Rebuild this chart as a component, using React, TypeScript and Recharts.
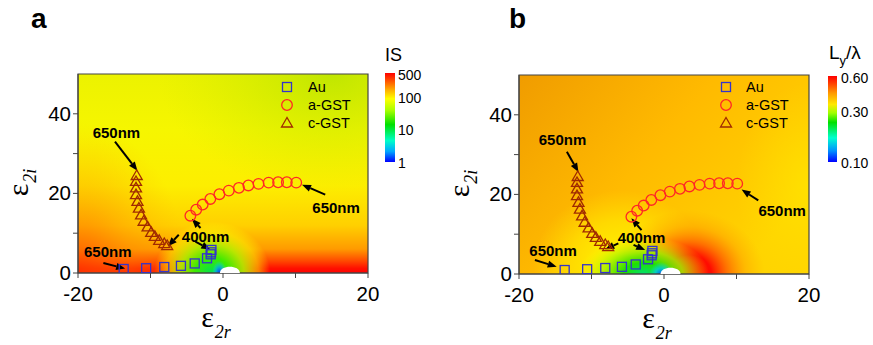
import React from 'react';
import {
  ScatterChart,
  Scatter,
  XAxis,
  YAxis,
  ReferenceArea,
  ReferenceLine,
  ReferenceDot,
  Legend,
} from 'recharts';

// ---------------- data ----------------
const auX = [-13.7, -10.6, -8.1, -5.8, -3.9, -2.2, -1.7, -1.65, -1.6];
const auY = [1.0, 1.2, 1.5, 1.8, 2.4, 3.7, 4.7, 5.2, 5.8];

const aGstX = [-4.5, -3.7, -2.8, -1.75, -0.5, 0.8, 2.2, 3.5, 4.9, 6.3, 7.6, 8.8, 10.1];
const aGstY = [14.4, 15.9, 17.2, 18.6, 19.8, 20.7, 21.4, 22.0, 22.4, 22.7, 22.8, 22.8, 22.7];

const cGstX = [-11.9, -12.0, -12.0, -12.0, -11.8, -11.6, -11.3, -10.95, -10.4, -9.9, -9.4, -8.8, -8.1, -7.7];
const cGstY = [24.5, 23.0, 21.4, 19.7, 18.0, 16.3, 14.6, 13.0, 11.6, 10.2, 9.2, 8.2, 7.4, 6.9];

const X_DOMAIN: [number, number] = [-20, 20];
const Y_DOMAIN: [number, number] = [0, 50];
const X_TICKS = [-20, -10, 0, 10, 20];
const X_LABELED = [-20, 0, 20];
const Y_TICKS = [0, 10, 20, 30, 40];
const Y_LABELED = [0, 20, 40];

const seriesNames = ['Au', 'a-GST', 'c-GST'];

const annotTextsA = [
  { t: '650nm', x: -14.7, y: 35.2 },
  { t: '650nm', x: 15.6, y: 16.4 },
  { t: '400nm', x: -2.4, y: 9.1 },
  { t: '650nm', x: -15.9, y: 5.4 },
];
const annotArrowsA = [
  [-14.9, 33.0, -11.8, 25.7],
  [14.1, 19.7, 10.9, 22.2],
  [-6.1, 9.6, -7.6, 6.7],
  [-3.1, 11.3, -4.3, 13.6],
  [-3.8, 7.9, -1.75, 5.9],
  [-16.5, 2.5, -13.5, 1.1],
];
const annotTextsB = [
  { t: '650nm', x: -14.0, y: 33.8 },
  { t: '650nm', x: 16.3, y: 15.9 },
  { t: '400nm', x: -3.1, y: 9.2 },
  { t: '650nm', x: -15.3, y: 5.8 },
];
const annotArrowsB = [
  [-13.4, 30.7, -11.8, 25.6],
  [13.0, 18.5, 10.7, 21.2],
  [-6.3, 7.7, -8.1, 6.2],
  [-3.1, 11.0, -4.5, 14.0],
  [-4.2, 7.3, -2.6, 6.0],
  [-17.8, 3.5, -14.8, 1.8],
];

const colorbarA = ['500', '100', '10', '1'];
const colorbarB = ['0.60', '0.30', '0.10'];

// ---------------- styles ----------------
const FONT = '"Liberation Sans", Arial, sans-serif';
const SERIF = '"Liberation Serif", "Times New Roman", serif';
const AU_C = '#3434cc';
const AG_C = '#ff2626';
const CG_C = '#a02a00';

const toPts = (xs: number[], ys: number[]) => xs.map((x, i) => ({ x, y: ys[i] }));
const auPts = toPts(auX, auY);
const agPts = toPts(aGstX, aGstY);
const cgPts = toPts(cGstX, cGstY);

type Stop = [number, string, number];

const fx = (x: number) => (x - X_DOMAIN[0]) / (X_DOMAIN[1] - X_DOMAIN[0]);
const fy = (y: number) => 1 - (y - Y_DOMAIN[0]) / (Y_DOMAIN[1] - Y_DOMAIN[0]);

function radial(id: string, x: number, y: number, rx: number, ry: number, stops: Stop[]) {
  const cx = fx(x);
  const cy = fy(y);
  const sx = rx / (X_DOMAIN[1] - X_DOMAIN[0]);
  const sy = ry / (Y_DOMAIN[1] - Y_DOMAIN[0]);
  return (
    <radialGradient
      key={id}
      id={id}
      cx={cx}
      cy={cy}
      r={1}
      gradientUnits="objectBoundingBox"
      gradientTransform={`translate(${cx} ${cy}) scale(${sx} ${sy}) translate(${-cx} ${-cy})`}
    >
      {stops.map(([o, c, op], i) => (
        <stop key={i} offset={o} stopColor={c} stopOpacity={op} />
      ))}
    </radialGradient>
  );
}

function linear(id: string, x1: number, y1: number, x2: number, y2: number, stops: Stop[]) {
  return (
    <linearGradient key={id} id={id} x1={x1} y1={y1} x2={x2} y2={y2}>
      {stops.map(([o, c, op], i) => (
        <stop key={i} offset={o} stopColor={c} stopOpacity={op} />
      ))}
    </linearGradient>
  );
}

const bgA = [
  linear('aBase', 0, 0, 0, 1, [
    [fy(50), '#ecf200', 1],
    [fy(36), '#f6f600', 1],
    [fy(22), '#fdee00', 1],
    [fy(12), '#ffd000', 1],
    [fy(6), '#ff9a00', 1],
    [fy(3), '#ff4800', 1],
    [fy(1.2), '#ff1000', 1],
    [fy(0), '#ff0000', 1],
  ]),
  radial('aLeft', -20, 0, 15, 38, [
    [0, '#ff4000', 0.75],
    [0.5, '#ff8800', 0.4],
    [1, '#ffb000', 0],
  ]),
  radial('aTop', 15, 50, 24, 30, [
    [0, '#a8e000', 0.65],
    [1, '#c8e800', 0],
  ]),
  radial('aGreen', -1.5, 0, 8, 13, [
    [0, '#00e050', 1],
    [0.3, '#40ea00', 1],
    [0.55, '#b0f000', 0.9],
    [0.8, '#f8fa00', 0.5],
    [1, '#ffff00', 0],
  ]),
  radial('aBlue', -0.5, 0, 1.0, 3, [
    [0, '#0030ff', 1],
    [0.5, '#00a0ff', 0.7],
    [1, '#00e0ff', 0],
  ]),
];

const bgB = [
  linear('bBase', 0, 0, 1, 0.6, [
    [0, '#f09c00', 1],
    [0.5, '#ffba00', 1],
    [1, '#ffd400', 1],
  ]),
  radial('bRight', 20, 22, 10, 26, [
    [0, '#ffe600', 0.7],
    [1, '#ffe000', 0],
  ]),
  radial('bYellow', -6, 2, 12, 19, [
    [0, '#ffff00', 0.9],
    [0.6, '#fff000', 0.55],
    [1, '#ffe800', 0],
  ]),
  radial('bRed', 3.4, 0, 10.5, 16, [
    [0, '#ff0000', 1],
    [0.3, '#ff0c00', 1],
    [0.5, '#ff5800', 0.8],
    [0.75, '#ff8a00', 0.35],
    [1, '#ffa000', 0],
  ]),
  radial('bGreen', -2.8, 0, 9, 9.5, [
    [0, '#00e070', 1],
    [0.3, '#20e000', 1],
    [0.6, '#a0f000', 0.85],
    [1, '#ffff00', 0],
  ]),
  radial('bBlue', -0.4, 0, 1.6, 3, [
    [0, '#0050ff', 1],
    [0.5, '#00c8ff', 0.7],
    [1, '#00e0ff', 0],
  ]),
];

// ---------------- shapes ----------------
const squareShape = (p: any) => (
  <rect x={p.cx - 4.5} y={p.cy - 4.5} width={9} height={9} fill="none" stroke={AU_C} strokeWidth={1.3} />
);
const circleShape = (p: any) => (
  <circle cx={p.cx} cy={p.cy} r={5.3} fill="none" stroke={AG_C} strokeWidth={1.3} />
);
const triShape = (p: any) => (
  <polygon
    points={`${p.cx},${p.cy - 5.5} ${p.cx - 5.5},${p.cy + 4} ${p.cx + 5.5},${p.cy + 4}`}
    fill="none"
    stroke={CG_C}
    strokeWidth={1.3}
  />
);

const arrowShape = (p: any) => {
  const { x1, y1, x2, y2 } = p;
  const ang = Math.atan2(y2 - y1, x2 - x1);
  const L = 9;
  const W = 3.6;
  const bx = x2 - L * Math.cos(ang);
  const by = y2 - L * Math.sin(ang);
  const px = -Math.sin(ang) * W;
  const py = Math.cos(ang) * W;
  return (
    <g>
      <line x1={x1} y1={y1} x2={bx} y2={by} stroke="#000" strokeWidth={2} />
      <polygon points={`${x2},${y2} ${bx + px},${by + py} ${bx - px},${by - py}`} fill="#000" />
    </g>
  );
};

const holeShape = (p: any) => {
  const rx = 10;
  const ry = 8.5;
  const { cx, cy } = p;
  return (
    <path
      d={`M ${cx - rx} ${cy} C ${cx - rx} ${cy - ry}, ${cx + rx} ${cy - ry}, ${cx + rx} ${cy} Z`}
      fill="#ffffff"
    />
  );
};

const XTick = (p: any) => {
  const v = p.payload.value;
  if (!X_LABELED.includes(v)) return <g />;
  return (
    <text x={p.x} y={p.y} dy="0.71em" textAnchor="middle" fontSize={20.5} fontFamily={FONT} fill="#000">
      {v}
    </text>
  );
};
const YTick = (p: any) => {
  const v = p.payload.value;
  if (!Y_LABELED.includes(v)) return <g />;
  return (
    <text x={p.x} y={p.y} dy="0.34em" textAnchor="end" fontSize={20.5} fontFamily={FONT} fill="#000">
      {v}
    </text>
  );
};

const xLabel = (props: any) => {
  const vb = props.viewBox || {};
  const cx = vb.x + vb.width / 2;
  const y = vb.y + 54;
  return (
    <text x={cx - 7} y={y} fontFamily={SERIF} fontSize={30} fill="#000" textAnchor="middle">
      ε
      <tspan fontSize={18} fontStyle="italic" dx={1} dy={11}>
        2r
      </tspan>
    </text>
  );
};
const yLabel = (props: any) => {
  const vb = props.viewBox || {};
  const x = vb.x + 10;
  const y = vb.y + vb.height / 2 + 9;
  return (
    <text
      x={x}
      y={y}
      transform={`rotate(-90, ${x}, ${y})`}
      fontFamily={SERIF}
      fontSize={30}
      fill="#000"
      textAnchor="middle"
    >
      ε
      <tspan fontSize={18} fontStyle="italic" dx={1} dy={8}>
        2i
      </tspan>
    </text>
  );
};

const markerIcons = [
  <rect key="s" x={2.5} y={2.5} width={9} height={9} fill="none" stroke={AU_C} strokeWidth={1.3} />,
  <circle key="c" cx={7} cy={7} r={5.3} fill="none" stroke={AG_C} strokeWidth={1.3} />,
  <polygon key="t" points="7,1.5 1.5,11 12.5,11" fill="none" stroke={CG_C} strokeWidth={1.3} />,
];

const makeLegend = (gap: number) => () => (
  <div style={{ fontFamily: FONT, fontSize: 14.5, color: '#000' }}>
    {seriesNames.map((n, i) => (
      <div key={n} style={{ display: 'flex', alignItems: 'center', height: 18 }}>
        <svg width={14} height={14} style={{ display: 'block' }}>
          {markerIcons[i]}
        </svg>
        <span style={{ marginLeft: gap, lineHeight: '18px' }}>{n}</span>
      </div>
    ))}
  </div>
);

interface PanelProps {
  left: number;
  margin: { top: number; right: number; bottom: number; left: number };
  bg: React.ReactElement[];
  texts: { t: string; x: number; y: number }[];
  arrows: number[][];
  legendPos: { left: number; top: number };
  legendGap: number;
  hole: number;
}

function Panel(props: PanelProps) {
  const { margin, bg, texts, arrows, legendPos, legendGap, hole } = props;
  return (
    <div style={{ position: 'absolute', left: props.left, top: 0 }}>
      <ScatterChart width={440} height={345} margin={margin}>
        <defs>{bg}</defs>
        {bg.map((g: any) => (
          <ReferenceArea
            key={g.props.id}
            x1={X_DOMAIN[0]}
            x2={X_DOMAIN[1]}
            y1={Y_DOMAIN[0]}
            y2={Y_DOMAIN[1]}
            fill={`url(#${g.props.id})`}
            fillOpacity={1}
            stroke="none"
          />
        ))}
        <ReferenceDot x={hole} y={0} r={0} shape={holeShape} />
        <ReferenceArea
          x1={X_DOMAIN[0]}
          x2={X_DOMAIN[1]}
          y1={Y_DOMAIN[0]}
          y2={Y_DOMAIN[1]}
          fill="none"
          fillOpacity={0}
          stroke="#444"
          strokeWidth={1.2}
        />
        <XAxis
          type="number"
          dataKey="x"
          domain={X_DOMAIN}
          ticks={X_TICKS}
          allowDataOverflow
          height={40}
          tickSize={5}
          tickMargin={8}
          stroke="#444"
          tick={<XTick />}
          label={{ content: xLabel } as any}
        />
        <YAxis
          type="number"
          dataKey="y"
          domain={Y_DOMAIN}
          ticks={Y_TICKS}
          allowDataOverflow
          width={60}
          tickSize={5}
          tickMargin={2}
          stroke="#444"
          tick={<YTick />}
          label={{ content: yLabel } as any}
        />
        <Legend
          layout="vertical"
          align="center"
          verticalAlign="middle"
          content={makeLegend(legendGap)}
          wrapperStyle={{ position: 'absolute', left: legendPos.left, top: legendPos.top, width: 'auto', height: 'auto' }}
        />
        <Scatter name="Au" data={auPts} shape={squareShape} isAnimationActive={false} />
        <Scatter name="a-GST" data={agPts} shape={circleShape} isAnimationActive={false} />
        <Scatter name="c-GST" data={cgPts} shape={triShape} isAnimationActive={false} />
        {arrows.map((a, i) => (
          <ReferenceLine
            key={`ar${i}`}
            segment={[
              { x: a[0], y: a[1] },
              { x: a[2], y: a[3] },
            ]}
            shape={arrowShape}
            ifOverflow="visible"
          />
        ))}
        {texts.map((t, i) => (
          <ReferenceDot
            key={`tx${i}`}
            x={t.x}
            y={t.y}
            r={0}
            ifOverflow="visible"
            shape={(p: any) => (
              <text
                x={p.cx}
                y={p.cy}
                dy="0.36em"
                textAnchor="middle"
                fontFamily={FONT}
                fontWeight="bold"
                fontSize={15}
                fill="#000"
              >
                {t.t}
              </text>
            )}
          />
        ))}
      </ScatterChart>
    </div>
  );
}

const abs = (s: React.CSSProperties): React.CSSProperties => ({ position: 'absolute', ...s });

export default function App() {
  return (
    <div style={abs({ left: 0, top: 0, width: 873, height: 345, background: '#fff', overflow: 'hidden' })}>
      <Panel
        left={0}
        margin={{ top: 74, right: 72, bottom: 32, left: 18 }}
        bg={bgA}
        texts={annotTextsA}
        arrows={annotArrowsA}
        legendPos={{ left: 280, top: 78 }}
        legendGap={14}
        hole={0.95}
      />
      <Panel
        left={433}
        margin={{ top: 75, right: 64, bottom: 31, left: 26 }}
        bg={bgB}
        texts={annotTextsB}
        arrows={annotArrowsB}
        legendPos={{ left: 286, top: 78 }}
        legendGap={13}
        hole={0.9}
      />

      {/* panel letters */}
      <div style={abs({ left: 31, top: 2, fontFamily: FONT, fontWeight: 'bold', fontSize: 28, lineHeight: '34px' })}>a</div>
      <div style={abs({ left: 509, top: 2, fontFamily: FONT, fontWeight: 'bold', fontSize: 28, lineHeight: '34px' })}>b</div>

      {/* colorbar a */}
      <div style={abs({ left: 385, top: 44, fontFamily: FONT, fontSize: 18, lineHeight: '22px' })}>IS</div>
      <div
        style={abs({
          left: 385,
          top: 73,
          width: 10,
          height: 89,
          background:
            'linear-gradient(to bottom, #ff0000 0%, #ff4a00 8%, #ffae00 19%, #ffff00 29%, #a8ff00 42%, #00e000 58%, #00ffc8 76%, #00a8ff 88%, #0000ff 100%)',
        })}
      />
      {colorbarA.map((l, i) => (
        <div
          key={l}
          style={abs({
            left: 398,
            top: [75, 98, 130, 163][i] - 9,
            fontFamily: FONT,
            fontSize: 14,
            lineHeight: '18px',
          })}
        >
          {l}
        </div>
      ))}

      {/* colorbar b */}
      <div style={abs({ left: 829, top: 42, fontFamily: FONT, fontSize: 19, lineHeight: '22px', whiteSpace: 'nowrap' })}>
        L<span style={{ fontSize: 13, position: 'relative', top: 6 }}>y</span>/λ
      </div>
      <div
        style={abs({
          left: 828,
          top: 76,
          width: 9,
          height: 86,
          background:
            'linear-gradient(to bottom, #ff0000 0%, #ff3a00 8%, #ff9a00 20%, #ffe800 33%, #a0ff00 43%, #00e000 54%, #00ffd0 72%, #0090ff 87%, #0000ff 100%)',
        })}
      />
      {colorbarB.map((l, i) => (
        <div
          key={l}
          style={abs({
            left: 841,
            top: [77.5, 112, 162.5][i] - 9,
            fontFamily: FONT,
            fontSize: 14,
            lineHeight: '18px',
          })}
        >
          {l}
        </div>
      ))}
    </div>
  );
}
